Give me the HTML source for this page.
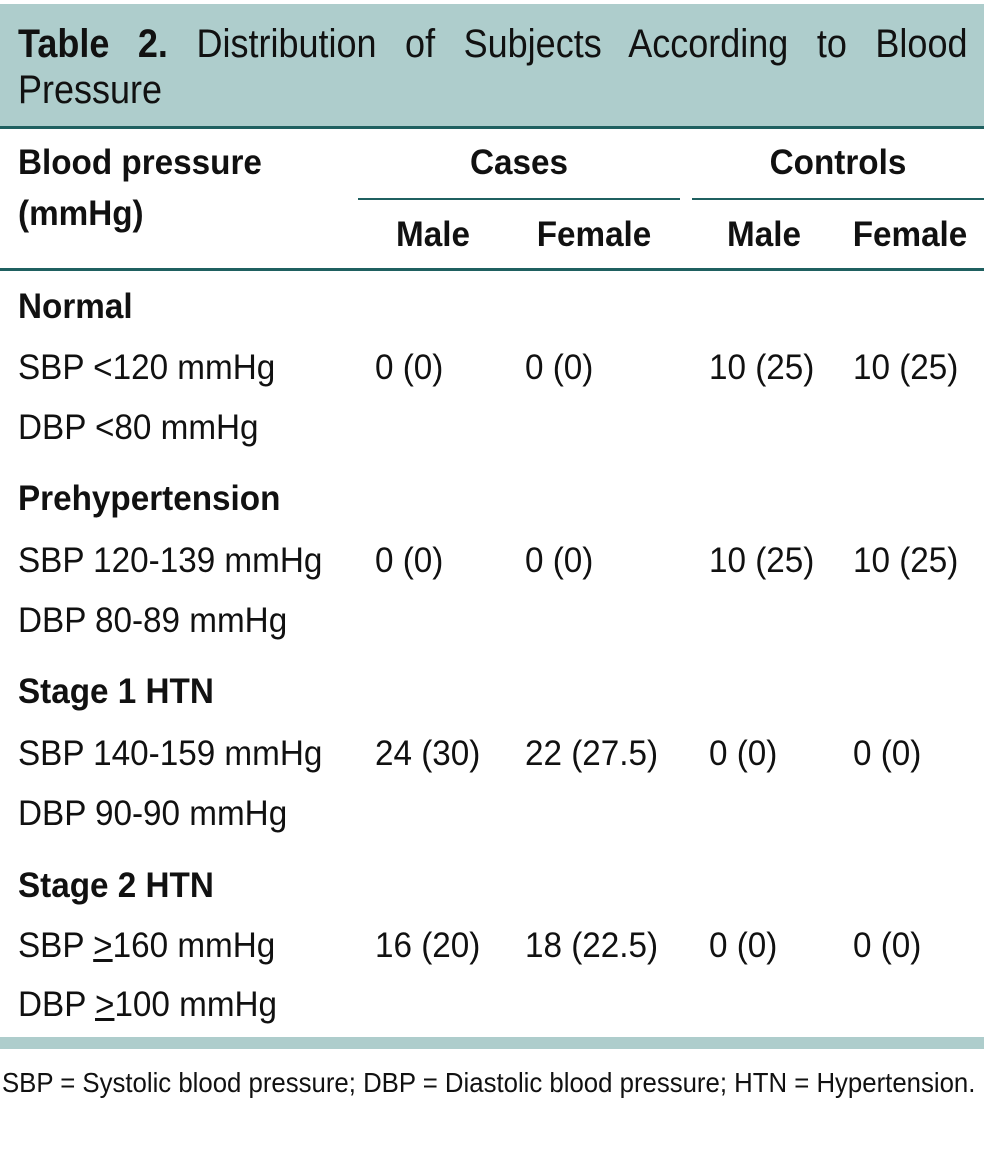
<!DOCTYPE html>
<html><head><meta charset="utf-8"><style>
body{margin:0;width:984px;height:1154px;background:#fff;position:relative;overflow:hidden;font-family:"Liberation Sans Narrow","Liberation Sans",sans-serif;color:#111}
.t{position:absolute;white-space:nowrap;font-size:35px;line-height:40px;transform:scaleX(0.95);transform-origin:0 50%}
.b{font-weight:bold}
.c{transform:translateX(-50%) scaleX(0.95);transform-origin:50% 50%}
.band{position:absolute;left:0;width:984px;background:#aecdcc}
.ln{position:absolute;background:#1f6060}
</style></head><body>
<div class="band" style="top:4px;height:122px"></div>
<div class="ln" style="left:0;top:126px;width:984px;height:3px"></div>
<div class="t" style="left:18px;top:20px;font-size:40px;line-height:48px;width:1055px;text-align:justify;text-align-last:justify;transform:scaleX(0.9)"><b>Table 2.</b> Distribution of Subjects According to Blood</div>
<div class="t" style="left:18px;top:66px;font-size:40px;line-height:48px;transform:scaleX(0.9)">Pressure</div>
<div class="t b" style="left:18px;top:143px">Blood pressure</div>
<div class="t b" style="left:18px;top:194px">(mmHg)</div>
<div class="t b c" style="left:519px;top:143px">Cases</div>
<div class="t b c" style="left:838px;top:143px">Controls</div>
<div class="ln" style="left:358px;top:198px;width:322px;height:2px"></div>
<div class="ln" style="left:692px;top:198px;width:292px;height:2px"></div>
<div class="t b c" style="left:433px;top:215px">Male</div>
<div class="t b c" style="left:594px;top:215px">Female</div>
<div class="t b c" style="left:764px;top:215px">Male</div>
<div class="t b c" style="left:910px;top:215px">Female</div>
<div class="ln" style="left:0;top:268px;width:984px;height:3px"></div>

<div class="t b" style="left:18px;top:287px">Normal</div>
<div class="t" style="left:18px;top:348px">SBP &lt;120 mmHg</div>
<div class="t" style="left:18px;top:408px">DBP &lt;80 mmHg</div>
<div class="t" style="left:375px;top:348px">0 (0)</div>
<div class="t" style="left:525px;top:348px">0 (0)</div>
<div class="t" style="left:709px;top:348px">10 (25)</div>
<div class="t" style="left:853px;top:348px">10 (25)</div>

<div class="t b" style="left:18px;top:479px">Prehypertension</div>
<div class="t" style="left:18px;top:541px">SBP 120-139 mmHg</div>
<div class="t" style="left:18px;top:601px">DBP 80-89 mmHg</div>
<div class="t" style="left:375px;top:541px">0 (0)</div>
<div class="t" style="left:525px;top:541px">0 (0)</div>
<div class="t" style="left:709px;top:541px">10 (25)</div>
<div class="t" style="left:853px;top:541px">10 (25)</div>

<div class="t b" style="left:18px;top:672px">Stage 1 HTN</div>
<div class="t" style="left:18px;top:734px">SBP 140-159 mmHg</div>
<div class="t" style="left:18px;top:794px">DBP 90-90 mmHg</div>
<div class="t" style="left:375px;top:734px">24 (30)</div>
<div class="t" style="left:525px;top:734px">22 (27.5)</div>
<div class="t" style="left:709px;top:734px">0 (0)</div>
<div class="t" style="left:853px;top:734px">0 (0)</div>

<div class="t b" style="left:18px;top:866px">Stage 2 HTN</div>
<div class="t" style="left:18px;top:926px">SBP <u>&gt;</u>160 mmHg</div>
<div class="t" style="left:18px;top:985px">DBP <u>&gt;</u>100 mmHg</div>
<div class="t" style="left:375px;top:926px">16 (20)</div>
<div class="t" style="left:525px;top:926px">18 (22.5)</div>
<div class="t" style="left:709px;top:926px">0 (0)</div>
<div class="t" style="left:853px;top:926px">0 (0)</div>

<div class="band" style="top:1037px;height:12px"></div>
<div class="t" style="left:2px;top:1066px;font-size:28px;line-height:34px;transform:scaleX(0.92)">SBP = Systolic blood pressure; DBP = Diastolic blood pressure; HTN = Hypertension.</div>
</body></html>
